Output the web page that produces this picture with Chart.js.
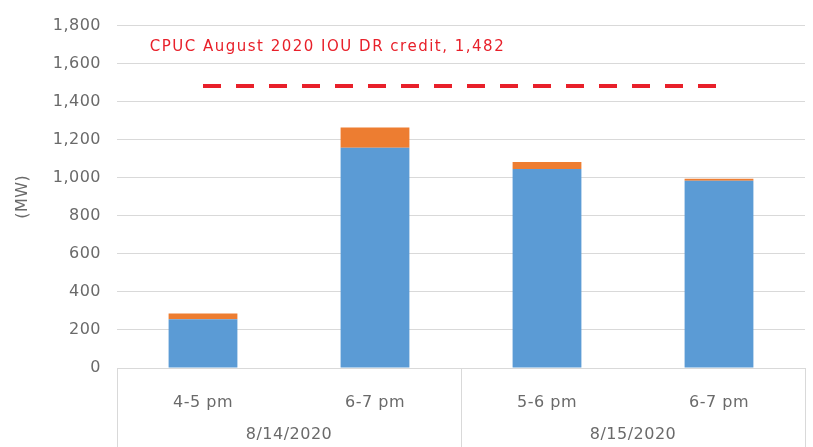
<!DOCTYPE html>
<html>
<head>
<meta charset="utf-8">
<script src="https://cdn.jsdelivr.net/npm/chart.js@4.4.1/dist/chart.umd.min.js"></script>
<style>
html,body{margin:0;padding:0;background:#fff;}
#wrap{width:813px;height:447px;}
</style>
</head>
<body>
<div id="wrap"><canvas id="c" width="813" height="447"></canvas></div>
<script>
const categories = ['4-5 pm', '6-7 pm', '5-6 pm', '6-7 pm'];
const dateGroups = ['8/14/2020', '8/15/2020'];
const groupSizes = [2, 2];
const baseValues = [256, 1158, 1046, 985];
const topValues = [31, 106, 37, 10];
const creditValue = 1482;
const creditLine = [creditValue, creditValue, creditValue, creditValue];
const creditLabel = 'CPUC August 2020 IOU DR credit, 1,482';
const yTicksMax = 1800;
const yStep = 200;

const FONT = "'DejaVu Sans', sans-serif";
const GRAY = '#6a6a6a';
const GRID = '#d9d9d9';

const spacing = {
  id: 'spacing',
  beforeDraw(chart) { chart.ctx.letterSpacing = '0.5px'; }
};

const separators = {
  id: 'separators',
  afterDraw(chart) {
    const x = chart.scales.x;
    const ctx = chart.ctx;
    const area = chart.chartArea;
    ctx.save();
    ctx.strokeStyle = GRID;
    ctx.lineWidth = 1;
    let idx = 0;
    const bounds = [0];
    groupSizes.forEach(s => { idx += s; bounds.push(idx); });
    bounds.forEach(b => {
      const px = Math.round(x.getPixelForValue(b - 0.5)) + 0.5;
      ctx.beginPath();
      ctx.moveTo(px, area.bottom);
      ctx.lineTo(px, chart.height);
      ctx.stroke();
    });
    const y = chart.scales.y;
    ctx.fillStyle = '#e8202a';
    ctx.font = '15px ' + FONT;
    ctx.letterSpacing = '1.5px';
    ctx.textBaseline = 'middle';
    ctx.textAlign = 'left';
    ctx.fillText(creditLabel, x.getPixelForValue(-0.31), y.getPixelForValue(1688));
    ctx.restore();
  }
};

new Chart(document.getElementById('c'), {
  data: {
    labels: categories,
    datasets: [
      {
        type: 'line',
        label: 'credit',
        data: creditLine,
        borderColor: '#e8202a',
        borderWidth: 4,
        borderDash: [18, 15],
        pointRadius: 0,
        fill: false,
        stack: 'credit',
        order: 0
      },
      {
        type: 'bar',
        label: 'base',
        data: baseValues,
        backgroundColor: '#5b9bd5',
        stack: 'bars',
        barPercentage: 0.8,
        categoryPercentage: 0.5,
        order: 1
      },
      {
        type: 'bar',
        label: 'top',
        data: topValues,
        backgroundColor: '#ed7d31',
        stack: 'bars',
        barPercentage: 0.8,
        categoryPercentage: 0.5,
        order: 1
      }
    ]
  },
  options: {
    responsive: false,
    animation: false,
    layout: { padding: { left: 0, right: 8, top: 11, bottom: 0 } },
    plugins: { legend: { display: false }, tooltip: { enabled: false } },
    scales: {
      x: {
        stacked: true,
        grid: { display: false, drawTicks: false },
        border: { display: false },
        ticks: { color: GRAY, font: { family: FONT, size: 16 }, padding: 25 },
        afterFit(s) { s.height = 50; }
      },
      x2: {
        type: 'category',
        position: 'bottom',
        labels: dateGroups,
        offset: true,
        grid: { display: false, drawTicks: false },
        border: { display: false },
        ticks: { color: GRAY, font: { family: FONT, size: 16 }, padding: 7 },
        afterFit(s) { s.height = 29; }
      },
      y: {
        stacked: true,
        min: 0,
        max: yTicksMax,
        ticks: { stepSize: yStep, color: GRAY, font: { family: FONT, size: 16 }, padding: 16 },
        grid: { color: GRID, drawTicks: false },
        border: { display: false },
        title: { display: true, text: '(MW)', color: GRAY, font: { family: FONT, size: 16 }, padding: { top: 13, bottom: 0 } },
        afterFit(s) { s.width = 117; }
      }
    }
  },
  plugins: [spacing, separators]
});
</script>
</body>
</html>
